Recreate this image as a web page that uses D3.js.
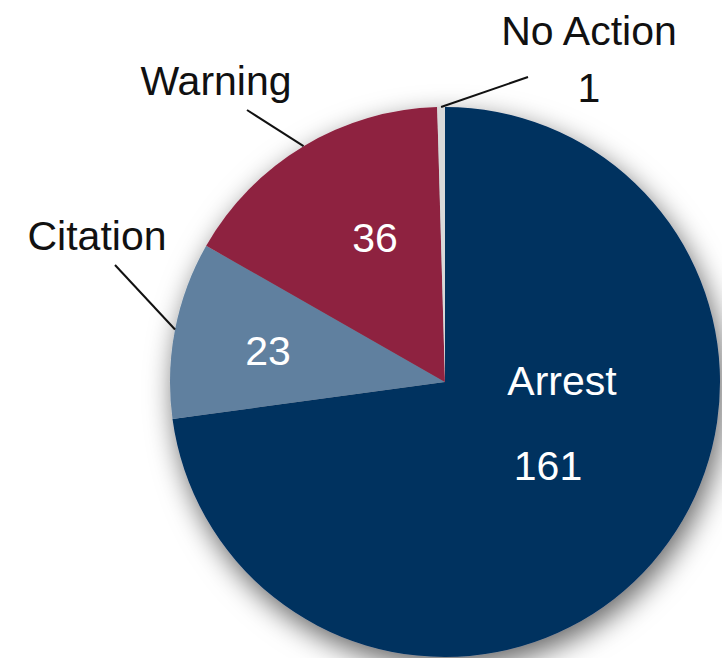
<!DOCTYPE html>
<html>
<head>
<meta charset="utf-8">
<script src="https://cdn.jsdelivr.net/npm/d3@7"></script>
<style>
  html, body { margin: 0; padding: 0; background: #fff; }
  svg { display: block; font-family: "Liberation Sans", Arial, sans-serif; }
</style>
</head>
<body>
<svg id="chart" width="722" height="658"></svg>
<script>
// Outcome counts, drawn clockwise from 12 o'clock
const categories = ["Arrest", "Citation", "Warning", "No Action"];
const counts = [161, 23, 36, 1];
const colors = ["#03305f", "#60809f", "#8e2340", "#d9d9d9"];

const width = 722, height = 658;
const cx = 445, cy = 382, radius = 275;

const svg = d3.select("#chart");

// soft drop shadow beneath the pie
const defs = svg.append("defs");
const f = defs.append("filter").attr("id", "shadow")
  .attr("x", "-20%").attr("y", "-20%").attr("width", "140%").attr("height", "140%");
f.append("feDropShadow")
  .attr("dx", 4).attr("dy", 10)
  .attr("stdDeviation", 14)
  .attr("flood-color", "#000")
  .attr("flood-opacity", 0.6);

const data = categories.map((c, i) => ({ name: c, value: counts[i], color: colors[i] }));

const pie = d3.pie().value(d => d.value).sort(null);
const arcs = pie(data);

const arc = d3.arc().innerRadius(0).outerRadius(radius);
const edgeArc = d3.arc().innerRadius(radius).outerRadius(radius);

const g = svg.append("g").attr("transform", `translate(${cx},${cy})`);

g.append("g").attr("filter", "url(#shadow)")
  .selectAll("path")
  .data(arcs)
  .join("path")
  .attr("d", arc)
  .attr("fill", d => d.data.color);

// leader lines from slice edge out to external labels
const leaderEnds = {
  "No Action": [528 - cx, 77 - cy],
  "Warning": [247 - cx, 110 - cy],
  "Citation": [115 - cx, 265 - cy]
};
g.selectAll("line.leader")
  .data(arcs.filter(d => leaderEnds[d.data.name]))
  .join("line")
  .attr("class", "leader")
  .attr("x1", d => edgeArc.centroid(d)[0])
  .attr("y1", d => edgeArc.centroid(d)[1])
  .attr("x2", d => leaderEnds[d.data.name][0])
  .attr("y2", d => leaderEnds[d.data.name][1])
  .attr("stroke", "#111")
  .attr("stroke-width", 2);

// label placement (absolute page coordinates)
const outerLabels = {
  "No Action": { x: 589, y: 45, vx: 589, vy: 102 },
  "Warning": { x: 216, y: 95 },
  "Citation": { x: 97, y: 250 }
};
const innerLabels = {
  "Warning": { vx: 375, vy: 252 },
  "Citation": { vx: 268, vy: 365 },
  "Arrest": { x: 562, y: 395, vx: 548, vy: 480 }
};

const labels = svg.append("g").attr("font-size", 41).attr("text-anchor", "middle");

arcs.forEach(d => {
  const o = outerLabels[d.data.name];
  if (o) {
    labels.append("text").attr("x", o.x).attr("y", o.y).attr("fill", "#111").text(d.data.name);
    if (o.vx !== undefined) {
      labels.append("text").attr("x", o.vx).attr("y", o.vy).attr("fill", "#111").text(d.data.value);
    }
  }
  const n = innerLabels[d.data.name];
  if (n) {
    if (n.x !== undefined) {
      labels.append("text").attr("x", n.x).attr("y", n.y).attr("fill", "#fff").text(d.data.name);
    }
    labels.append("text").attr("x", n.vx).attr("y", n.vy).attr("fill", "#fff").text(d.data.value);
  }
});
</script>
</body>
</html>
